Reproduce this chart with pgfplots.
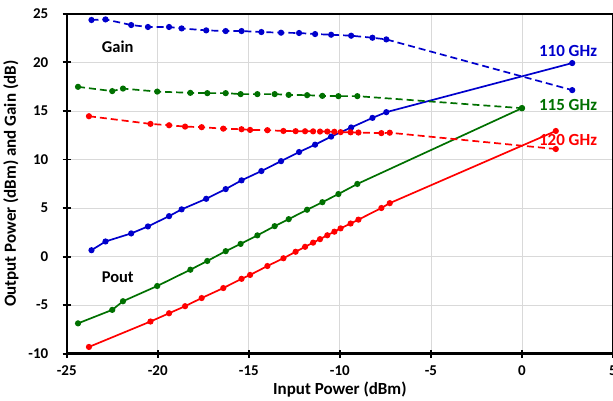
\documentclass[border=0pt]{standalone}
\usepackage{fontspec}
\setmainfont{Carlito}
\usepackage{pgfplots}
\pgfplotsset{compat=1.18}
\definecolor{cblue}{RGB}{0,0,204}
\definecolor{cgreen}{RGB}{0,112,0}
\definecolor{cred}{RGB}{255,0,0}
\definecolor{gridgray}{RGB}{217,217,217}

\begin{document}
\begin{tikzpicture}[trim axis right]
  \begin{axis}[
      scale only axis,
      width=547pt, height=340pt,
      xmin=-25, xmax=5, ymin=-10, ymax=25,
      xtick={-25,-20,...,5}, ytick={-10,-5,...,25},
      grid=major,
      grid style={gridgray, line width=0.8pt},
      axis line style={black, line width=2.2pt},
      tick style={black, line width=2pt},
      tick align=center,
      major tick length=8pt,
      xtick pos=bottom, ytick pos=left,
      /pgf/number format/assume math mode=true,
      tick label style={font=\fontsize{15}{17}\selectfont\bfseries},
      xticklabel style={yshift=-5pt},
      yticklabel style={xshift=-11pt},
      label style={font=\fontsize{17}{19}\selectfont\bfseries},
      xlabel={Input Power (dBm)},
      ylabel={Output Power (dBm) and Gain (dB)},
      xlabel style={yshift=1pt},
      ylabel style={yshift=3pt},
      clip=false,
      every axis plot/.append style={line width=1.7pt, mark=*, mark size=2.2pt},
    ]
    % 110 GHz gain
    \addplot[cblue, dash pattern=on 7pt off 4pt, mark options={solid}] coordinates {
      (-23.64,24.38) (-22.87,24.44) (-21.46,23.86) (-20.54,23.66) (-19.38,23.66)
      (-18.69,23.51) (-17.34,23.31) (-16.27,23.24) (-15.40,23.24) (-14.31,23.14)
      (-13.23,23.07) (-12.24,23.04) (-11.36,22.93) (-10.48,22.86) (-9.38,22.76)
      (-8.21,22.55) (-7.45,22.38) (2.76,17.15)};
    % 110 GHz pout
    \addplot[cblue] coordinates {
      (-23.64,0.65) (-22.87,1.55) (-21.46,2.38) (-20.54,3.10) (-19.38,4.16)
      (-18.69,4.86) (-17.34,5.95) (-16.27,6.95) (-15.40,7.85) (-14.31,8.81)
      (-13.23,9.83) (-12.24,10.77) (-11.36,11.53) (-10.48,12.36) (-9.38,13.30)
      (-8.21,14.29) (-7.45,14.88) (2.76,19.94)};
    % 115 GHz gain
    \addplot[cgreen, dash pattern=on 7pt off 4pt, mark options={solid}] coordinates {
      (-24.38,17.49) (-22.50,17.05) (-21.91,17.31) (-20.03,17.00) (-18.21,16.87)
      (-17.28,16.84) (-16.27,16.84) (-15.45,16.74) (-14.53,16.74) (-13.58,16.74)
      (-12.81,16.66) (-11.80,16.63) (-10.96,16.56) (-10.08,16.53) (-9.04,16.53)
      (0.00,15.29)};
    % 115 GHz pout
    \addplot[cgreen] coordinates {
      (-24.38,-6.89) (-22.50,-5.50) (-21.91,-4.61) (-20.03,-3.04) (-18.21,-1.36)
      (-17.28,-0.46) (-16.27,0.55) (-15.45,1.30) (-14.53,2.18) (-13.58,3.13)
      (-12.81,3.85) (-11.80,4.82) (-10.96,5.60) (-10.08,6.44) (-9.04,7.48)
      (0.00,15.29)};
    % 120 GHz gain
    \addplot[cred, dash pattern=on 7pt off 4pt, mark options={solid}] coordinates {
      (-23.78,14.46) (-20.40,13.67) (-19.38,13.53) (-18.50,13.39) (-17.59,13.33)
      (-16.40,13.18) (-15.40,13.12) (-14.93,13.05) (-13.98,13.02) (-13.10,12.94)
      (-12.43,12.92) (-11.91,12.91) (-11.47,12.90) (-11.09,12.88) (-10.69,12.88)
      (-10.30,12.86) (-9.96,12.82) (-9.41,12.80) (-8.98,12.78) (-7.72,12.72)
      (-7.26,12.76) (1.86,11.08)};
    % 120 GHz pout
    \addplot[cred] coordinates {
      (-23.78,-9.32) (-20.40,-6.70) (-19.38,-5.85) (-18.50,-5.12) (-17.59,-4.28)
      (-16.40,-3.25) (-15.40,-2.30) (-14.93,-1.90) (-13.98,-0.98) (-13.10,-0.18)
      (-12.43,0.49) (-11.91,1.00) (-11.47,1.43) (-11.09,1.79) (-10.69,2.19)
      (-10.30,2.56) (-9.96,2.90) (-9.41,3.40) (-8.98,3.80) (-7.72,5.00)
      (-7.26,5.50) (1.86,12.94)};

    \node[font=\fontsize{16.5}{18}\selectfont\bfseries] at (axis cs:-22.2,21.67) {Gain};
    \node[font=\fontsize{16.5}{18}\selectfont\bfseries] at (axis cs:-22.2,-2.09) {Pout};
    \node[font=\fontsize{17}{19}\selectfont\bfseries, text=cblue] at (axis cs:2.53,21.2) {110 GHz};
    \node[font=\fontsize{17}{19}\selectfont\bfseries, text=cgreen] at (axis cs:2.53,15.6) {115 GHz};
    \node[font=\fontsize{17}{19}\selectfont\bfseries, text=cred] at (axis cs:2.53,12.0) {120 GHz};
    \path (rel axis cs:0,1) ++(0pt,14pt);
  \end{axis}
\end{tikzpicture}
\end{document}
